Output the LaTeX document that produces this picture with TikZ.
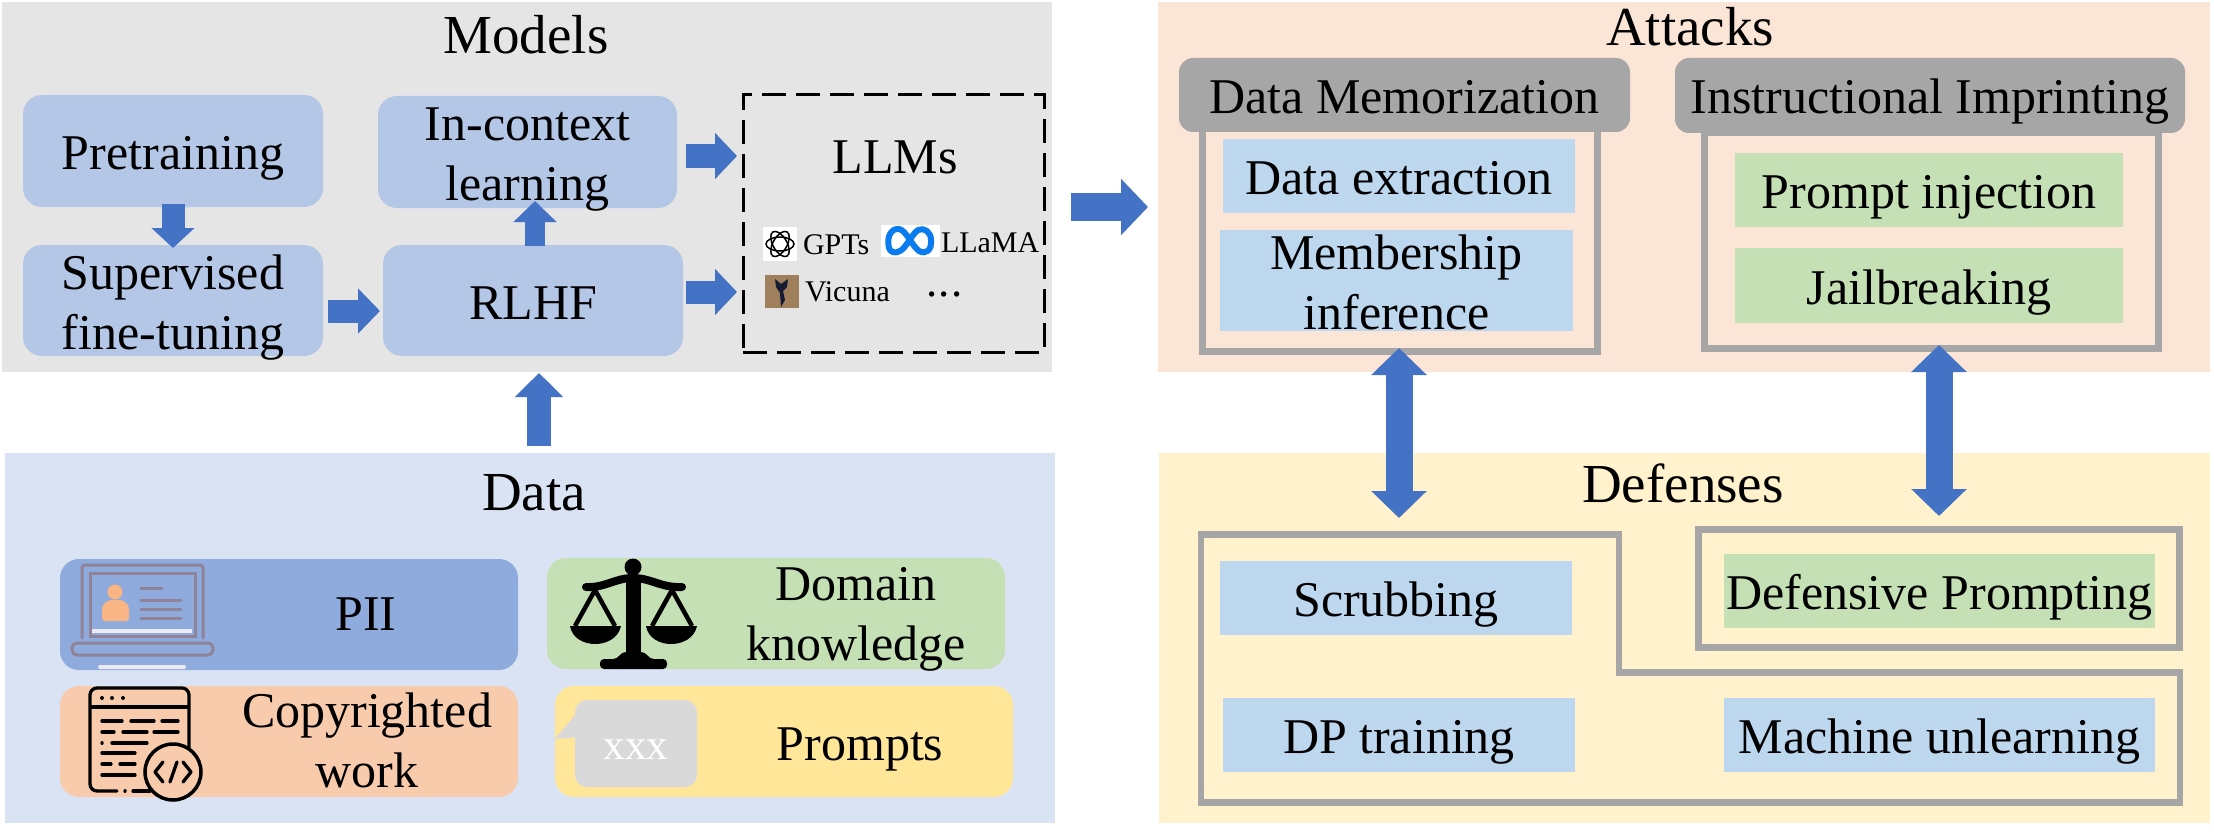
\documentclass[tikz,border=0pt]{standalone}
\usepackage{fontspec}
\setmainfont{Liberation Serif}
\usetikzlibrary{arrows.meta}
\definecolor{modelbg}{HTML}{E5E5E5}
\definecolor{databg}{HTML}{DAE3F3}
\definecolor{attackbg}{HTML}{FBE5D6}
\definecolor{defensebg}{HTML}{FFF2CC}
\definecolor{stepblue}{HTML}{B4C7E7}
\definecolor{itemblue}{HTML}{BDD7EE}
\definecolor{itemgreen}{HTML}{C5E0B4}
\definecolor{piiblue}{HTML}{8FAADC}
\definecolor{workorange}{HTML}{F8CBAD}
\definecolor{promptyellow}{HTML}{FFE699}
\definecolor{framegray}{HTML}{A6A6A6}
\definecolor{bubblegray}{HTML}{D9D9D9}
\definecolor{arrowblue}{HTML}{4472C4}
\definecolor{lapgray}{HTML}{8E8399}
\definecolor{lappale}{HTML}{ECEAF6}
\definecolor{skin}{HTML}{F9B583}
\definecolor{metablue}{HTML}{0A7CF0}
\definecolor{vicbrown}{HTML}{A07F5C}
\definecolor{vicdark}{HTML}{141B33}
\begin{document}
\begin{tikzpicture}[x=1pt,y=-1pt,
    every node/.style={inner sep=0pt,outer sep=0pt},
    wh/.style 2 args={minimum width=#1pt,minimum height=#2pt},
    head/.style={font=\fontsize{55}{66}\selectfont,anchor=base},
    body/.style={font=\fontsize{50}{60}\selectfont,align=center,text height=38.5pt,text depth=1.5pt},
    twoline/.style={text height=98.5pt,text depth=1.5pt},
    small/.style={font=\fontsize{30}{36}\selectfont,anchor=base west},
    stepbox/.style={body,fill=stepblue,rounded corners=19pt},
    databox/.style={body,rounded corners=19pt},
    tab/.style={body,fill=framegray,rounded corners=14pt},
    item/.style={body,fill=itemblue},
    gitem/.style={body,fill=itemgreen},
    frame/.style={draw=framegray,line width=7pt},
    flow/.style n args={3}{draw=arrowblue,line width=#1pt,-{Triangle[length=#3pt,width=#2pt]}},
    twoway/.style={draw=arrowblue,line width=27pt,{Triangle[length=27pt,width=54pt]}-{Triangle[length=27pt,width=54pt]}},
    lapline/.style={draw=lapgray,line width=3pt,line cap=round},
    codeline/.style={draw=black,line width=3.3pt,line cap=round}]
  \useasboundingbox (0,0) rectangle (2214,832);
  % panels
  \node [fill=modelbg,wh={1050}{370}] (models) at (527,187) {};
  \node [fill=databg,wh={1050}{370}] (data) at (530,638) {};
  \node [fill=attackbg,wh={1052}{370}] (attacks) at (1684,187) {};
  \node [fill=defensebg,wh={1051}{370}] (defenses) at (1684.5,638) {};
  \node [head] (modelstitle) at (526,54) {Models};
  \node [head] (datatitle) at (534,510) {Data};
  \node [head] (attackstitle) at (1690,46) {Attacks};
  \node [head] (defensestitle) at (1683,502) {Defenses};
  % models
  \node [stepbox,wh={300}{112}] (pre) at (173,151) {Pretraining};
  \node [stepbox,twoline,wh={299}{112}] (ictx) at (527.5,152) {In-context\\learning};
  \node [stepbox,twoline,wh={300}{111}] (sup) at (173,300.5) {Supervised\\fine-tuning};
  \node [stepbox,wh={300}{111}] (rlhf) at (533,300.5) {RLHF};
  \node [draw=black,line width=3pt,dash pattern=on 24pt off 10pt,wh={301}{257}] (llms) at (893.5,223.5) {};
  \node [head,font=\fontsize{50}{60}\selectfont] (llmstitle) at (895,173) {LLMs};
  \node [fill=white,wh={34}{34}] (gptlogo) at (780,244) {};
  \foreach \a in {0,60,120}
    \draw [line width=1.5pt,rotate around={\a:(gptlogo.center)}] (gptlogo.center) ellipse (14pt and 7pt);
  \node [small] (gpts) at (803,254) {GPTs};
  \node [fill=white,wh={59}{32}] (metalogo) at (910.5,241) {};
  \draw [metablue,line width=6pt,line join=round] (889,248) .. controls (886,236) and (892,228) .. (899,229)
    .. controls (906,230) and (912,246) .. (919,251) .. controls (926,255) and (932,250) .. (931,240)
    .. controls (931,232) and (924,227) .. (918,230) .. controls (912,234) and (906,248) .. (900,251)
    .. controls (895,254) and (890,252) .. (889,248) -- cycle;
  \node [small] (llama) at (941,252) {LLaMA};
  \node [fill=vicbrown,wh={34}{33}] (viclogo) at (782,291.5) {};
  \fill [vicdark] (775,279) -- (781,284) -- (788,279) -- (787,287) -- (783,291) -- (785,300) -- (781,307) -- (780,293) -- (776,287) -- cycle;
  \node [small] (vicuna) at (805,301) {Vicuna};
  \node [small,font=\fontsize{45}{50}\selectfont] (more) at (926,296) {.\kern1.5pt.\kern1.5pt.};
  % data
  \node [databox,fill=piiblue,wh={458}{111}] (pii) at (289,614.5) {};
  \node [databox,fill=itemgreen,wh={458}{111}] (domain) at (776,613.5) {};
  \node [databox,fill=workorange,wh={458}{111}] (work) at (289,741.5) {};
  \node [databox,fill=promptyellow,wh={458}{111}] (prompts) at (784,741.5) {};
  \node [body] (piitext) at (366,612) {PII};
  \node [body,twoline] (domaintext) at (856,611.5) {Domain\\knowledge};
  \node [body,twoline] (worktext) at (367,739) {Copyrighted\\work};
  \node [body] (promptstext) at (860,741.5) {Prompts};
  % laptop
  \draw [lapgray,line width=3pt,line cap=round,rounded corners=3pt] (82,638) -- (82,565) -- (203,565) -- (203,638);
  \draw [lapgray,line width=3pt] (90,573) rectangle (195,636);
  \fill [lappale] (92,629) rectangle (192,633);
  \fill [skin] (115,592) circle (7.5pt);
  \fill [skin,rounded corners=3pt] (102,621) -- (102,606) -- (108,600) -- (123,600) -- (129,606) -- (129,621) -- cycle;
  \draw [lapline] (141,588) -- (162,588);
  \foreach \y in {600,609,618}
    \draw [lapline] (141,\y) -- (181,\y);
  \draw [lapgray,line width=3pt,rounded corners=5pt] (72,643) rectangle (213,655);
  \fill [lappale,rounded corners=2pt] (98,665) rectangle (186,669);
  % scales
  \fill (633,567) circle (8.5pt);
  \fill (626,575) rectangle (641,660);
  \draw [line width=8pt,line cap=round] (586,587) .. controls (605,588) and (615,578) .. (633,578) .. controls (651,578) and (661,588) .. (682,587);
  \draw [line width=4.5pt,line join=round] (575,626) -- (595,590) -- (615,626);
  \draw [line width=4.5pt,line join=round] (652,626) -- (672,590) -- (692,626);
  \fill (570,626) .. controls (574,650) and (616,650) .. (621,626) -- cycle;
  \fill (646,626) .. controls (650,650) and (692,650) .. (697,626) -- cycle;
  \fill [rounded corners=4pt] (600,669) -- (600,659) -- (617,659) -- (622,652) -- (645,652) -- (650,659) -- (667,659) -- (667,669) -- cycle;
  % code page
  \draw [line width=3.3pt,line cap=round,rounded corners=7pt] (117,791) -- (90,791) -- (90,688) -- (189,688) -- (189,750);
  \draw [line width=3.3pt] (90,707) -- (189,707);
  \foreach \x in {102,112,123}
    \fill (\x,698) circle (2pt);
  \draw [codeline] (102,721) -- (122,721) (131,721) -- (154,721) (162,721) -- (178,721);
  \draw [codeline] (102,732) -- (114,732) (123,732) -- (147,732) (154,732) -- (178,732);
  \draw [codeline] (102,743) -- (102.1,743) (112,743) -- (147,743);
  \draw [codeline] (102,753) -- (135,753);
  \draw [codeline] (102,764) -- (111,764) (120,764) -- (135,764);
  \draw [codeline] (102,775) -- (135,775);
  \draw [codeline] (125,791) -- (125.1,791) (133,791) -- (150,791);
  \draw [fill=workorange,line width=3.5pt] (173,772) circle (28pt);
  \draw [line width=3.3pt,line cap=round,line join=round] (163,762) -- (155,772) -- (163,782) (183,762) -- (191,772) -- (183,782) (177,762) -- (170,782);
  % bubble
  \fill [bubblegray,rounded corners=12pt] (575,737) -- (575,700) -- (697,700) -- (697,787) -- (575,787) -- cycle;
  \fill [bubblegray] (575,715) -- (555,739) -- (580,737) -- cycle;
  \node [font=\fontsize{43}{50}\selectfont,text=white,anchor=base] (xxx) at (636,759) {xxx};
  % attacks
  \node [frame,wh={394.5}{231}] (dmframe) at (1400,236) {};
  \node [frame,wh={454}{216}] (iiframe) at (1931.5,240.5) {};
  \node [tab,wh={451}{74}] (dmtab) at (1404.5,95) {Data Memorization};
  \node [tab,wh={510}{75}] (iitab) at (1930,95.5) {Instructional Imprinting};
  \node [item,wh={352}{74}] (extract) at (1399,176) {Data extraction};
  \node [item,twoline,wh={353}{101}] (member) at (1396.5,280.5) {Membership\\inference};
  \node [gitem,wh={387.5}{74}] (inject) at (1929,190) {Prompt injection};
  \node [gitem,wh={387.5}{75}] (jail) at (1929,285.5) {Jailbreaking};
  % defenses
  \coordinate (dftop) at (1399,534.6);
  \draw [draw=framegray,line width=6.5pt] (1201,534.6) -- (dftop) -- (1619,534.6) -- (1619,672.5) -- (2180,672.5) -- (2180,802.5) -- (1201,802.5) -- cycle;
  \node [frame,wh={481}{118}] (dpframe) at (1939,588.5) {};
  \node [item,wh={352.5}{74}] (scrub) at (1396,598) {Scrubbing};
  \node [item,wh={352}{74}] (dptrain) at (1399,735) {DP training};
  \node [item,wh={431}{74}] (unlearn) at (1939.5,735) {Machine unlearning};
  \node [gitem,wh={431}{74}] (dprompt) at (1939.5,591) {Defensive Prompting};
  % arrows
  \draw [flow={23}{42}{20},shorten <=-3pt,shorten >=-3pt] (pre.south) -- (sup.north);
  \draw [flow={20}{42}{21},shorten <=-1pt,shorten >=-7pt] ([xshift=2pt]rlhf.north) -- ([xshift=7.5pt]ictx.south);
  \draw [flow={23}{44}{22},shorten <=5pt,shorten >=3pt] ([yshift=-10.5pt]sup.east) -- ([yshift=-10.5pt]rlhf.west);
  \draw [flow={23}{45}{22},shorten <=9pt,shorten >=6pt] ([yshift=-4pt]ictx.east) -- ([yshift=67.5pt]llms.west);
  \draw [flow={23}{45}{22},shorten <=3pt,shorten >=6pt] ([yshift=8.5pt]rlhf.east) -- ([yshift=-68.5pt]llms.west);
  \draw [flow={28}{55}{27},shorten <=19pt,shorten >=10pt] ([yshift=-20pt]models.east) -- ([yshift=-20pt]attacks.west);
  \draw [flow={24}{47}{24},shorten <=7pt,shorten >=17pt] ([xshift=9pt]data.north) -- ([xshift=6pt]rlhf.south);
  \draw [twoway,shorten <=-3.5pt,shorten >=16.6pt] ([xshift=-1pt]dmframe.south) -- (dftop);
  \draw [twoway,shorten <=-3.5pt,shorten >=13.5pt] ([xshift=7.5pt]iiframe.south) -- (dpframe.north);
\end{tikzpicture}
\end{document}
